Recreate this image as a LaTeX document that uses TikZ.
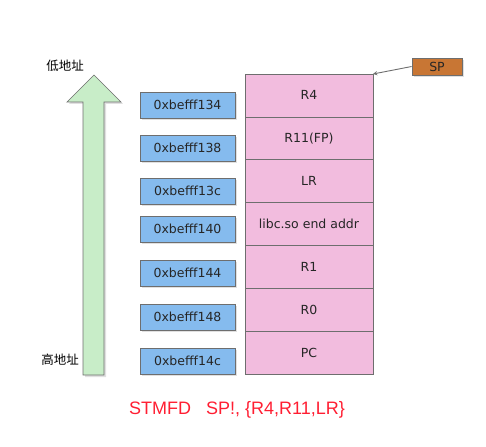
\documentclass[tikz,border=0pt]{standalone}
\usepackage{fontspec}
\setmainfont{DejaVu Sans}
\newfontfamily\cjk{Noto Sans CJK SC}
\newfontfamily\redfont{Liberation Sans}
\usetikzlibrary{arrows,shadows}
\definecolor{cellpink}{RGB}{242, 188, 222}
\definecolor{addrblue}{RGB}{133, 187, 238}
\definecolor{spbrown}{RGB}{200, 118, 52}
\definecolor{arrowgreen}{RGB}{200, 237, 200}
\definecolor{edgegray}{RGB}{110, 110, 110}
\definecolor{cmdred}{RGB}{255, 30, 50}

\begin{document}
\begin{tikzpicture}[x=1pt,y=-1pt,
font=\fontsize{12.5}{15}\selectfont,
cellnode/.style={rectangle, draw=edgegray, line width=0.7pt, fill=cellpink, minimum width=128pt, minimum height=42.857pt, inner sep=0pt, outer sep=0pt, text=black!85},
addrnode/.style={rectangle, draw=edgegray, line width=0.7pt, fill=addrblue, minimum width=95pt, minimum height=26pt, inner sep=0pt, text=black!85,
  drop shadow={shadow xshift=2pt, shadow yshift=-2pt, fill=black!12, opacity=1}},
]
\useasboundingbox (0,0) rectangle (486,446);

%Big arrow
\draw[edgegray, line width=0.7pt, fill=arrowgreen, drop shadow={shadow xshift=2pt, shadow yshift=-2pt, fill=black!12, opacity=1}]
  (83,375) -- (83,102) -- (67,102) -- (94,75) -- (121,102) -- (104,102) -- (104,375) -- cycle;
\node (low)  at (65,66)  {\cjk 低地址};
\node (high) at (60,360) {\cjk 高地址};

%Stack
\node[cellnode] (R4)   at (309,95.43)  {R4};
\node[cellnode] (R11)  at (309,138.29) {R11(FP)};
\node[cellnode] (LR)   at (309,181.14) {LR};
\node[cellnode] (libc) at (309,224.00) {libc.so end addr};
\node[cellnode] (R1)   at (309,266.86) {R1};
\node[cellnode] (R0)   at (309,309.71) {R0};
\node[cellnode] (PC)   at (309,352.57) {PC};

%Addresses
\node[addrnode] (a134) at (187.5,105) {0xbefff134};
\node[addrnode] (a138) at (187.5,148) {0xbefff138};
\node[addrnode] (a13c) at (187.5,191) {0xbefff13c};
\node[addrnode] (a140) at (187.5,229) {0xbefff140};
\node[addrnode] (a144) at (187.5,273) {0xbefff144};
\node[addrnode] (a148) at (187.5,317) {0xbefff148};
\node[addrnode] (a14c) at (187.5,361) {0xbefff14c};

%SP
\node[rectangle, draw=edgegray, line width=0.7pt, fill=spbrown, minimum width=50pt, minimum height=17pt, inner sep=0pt, text=black!85,
  drop shadow={shadow xshift=2pt, shadow yshift=-2pt, fill=black!12, opacity=1}] (SP) at (437,66.5) {SP};
\draw[->,>=stealth,edgegray,line width=0.9pt] (SP.west) -- (R4.north east);

%Instruction
\node[text=cmdred] (cmd) at (237,410) {\redfont\fontsize{18}{21}\selectfont STMFD\ \ \ SP!, \{R4,R11,LR\}};

\end{tikzpicture}
\end{document}
